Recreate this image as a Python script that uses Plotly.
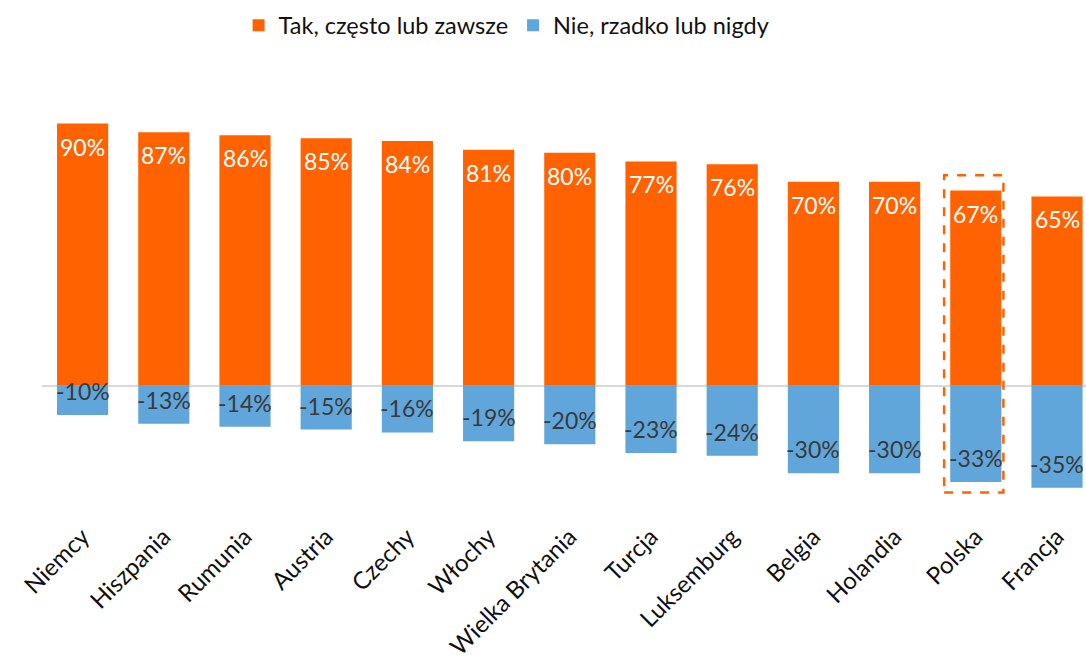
import plotly.graph_objects as go

countries = ["Niemcy", "Hiszpania", "Rumunia", "Austria", "Czechy", "Włochy",
             "Wielka Brytania", "Turcja", "Luksemburg", "Belgia", "Holandia",
             "Polska", "Francja"]
yes_vals = [90, 87, 86, 85, 84, 81, 80, 77, 76, 70, 70, 67, 65]
no_vals = [-10, -13, -14, -15, -16, -19, -20, -23, -24, -30, -30, -33, -35]
series_names = ["Tak, często lub zawsze", "Nie, rzadko lub nigdy"]
highlight = "Polska"

ORANGE = "#FF6200"
BLUE = "#60A6DA"
FONT = "Lato, Noto Sans, sans-serif"

fig = go.Figure()
fig.add_trace(go.Bar(x=countries, y=yes_vals, name=series_names[0],
                     marker=dict(color=ORANGE, line=dict(width=0))))
fig.add_trace(go.Bar(x=countries, y=no_vals, name=series_names[1],
                     marker=dict(color=BLUE, line=dict(width=0))))

annotations = []
for c, v in zip(countries, yes_vals):
    annotations.append(dict(x=c, y=v, xref="x", yref="y", text=f"{v}%",
                            showarrow=False, yanchor="top", yshift=-7,
                            font=dict(color="white", size=23, family=FONT)))
for c, v in zip(countries, no_vals):
    annotations.append(dict(x=c, y=v, xref="x", yref="y", text=f"{v}%",
                            showarrow=False, yanchor="bottom", yshift=8,
                            font=dict(color="#3a3a3a", size=23, family=FONT)))

hi = countries.index(highlight)
shapes = [dict(type="rect", xref="x", yref="y",
               x0=hi - 0.39, x1=hi + 0.34,
               y0=no_vals[hi] - 3.6, y1=yes_vals[hi] + 5.3,
               line=dict(color=ORANGE, width=2.5, dash="dash"),
               fillcolor="rgba(0,0,0,0)")]

fig.update_layout(
    width=1086, height=662,
    barmode="relative", bargap=0.37,
    plot_bgcolor="white", paper_bgcolor="white",
    margin=dict(l=42, r=0, t=109, b=145),
    font=dict(family=FONT, color="#111111"),
    showlegend=True,
    legend=dict(orientation="h", x=0.445, xanchor="center", y=1.205,
                yanchor="middle", font=dict(size=23.5, family=FONT),
                itemwidth=30, traceorder="normal"),
    annotations=annotations,
    shapes=shapes,
)
fig.update_xaxes(range=[-0.5, 12.357], tickangle=-45, showgrid=False,
                 showline=False, ticks="", tickfont=dict(size=24, family=FONT))
fig.update_yaxes(range=[-45, 95], showgrid=False, showticklabels=False,
                 zeroline=True, zerolinecolor="#d9d9d9", zerolinewidth=2)

fig.write_html("out.html",
               config={"displayModeBar": False},
               post_script="document.body.style.margin='0';"
                           "document.body.style.overflow='hidden';")
